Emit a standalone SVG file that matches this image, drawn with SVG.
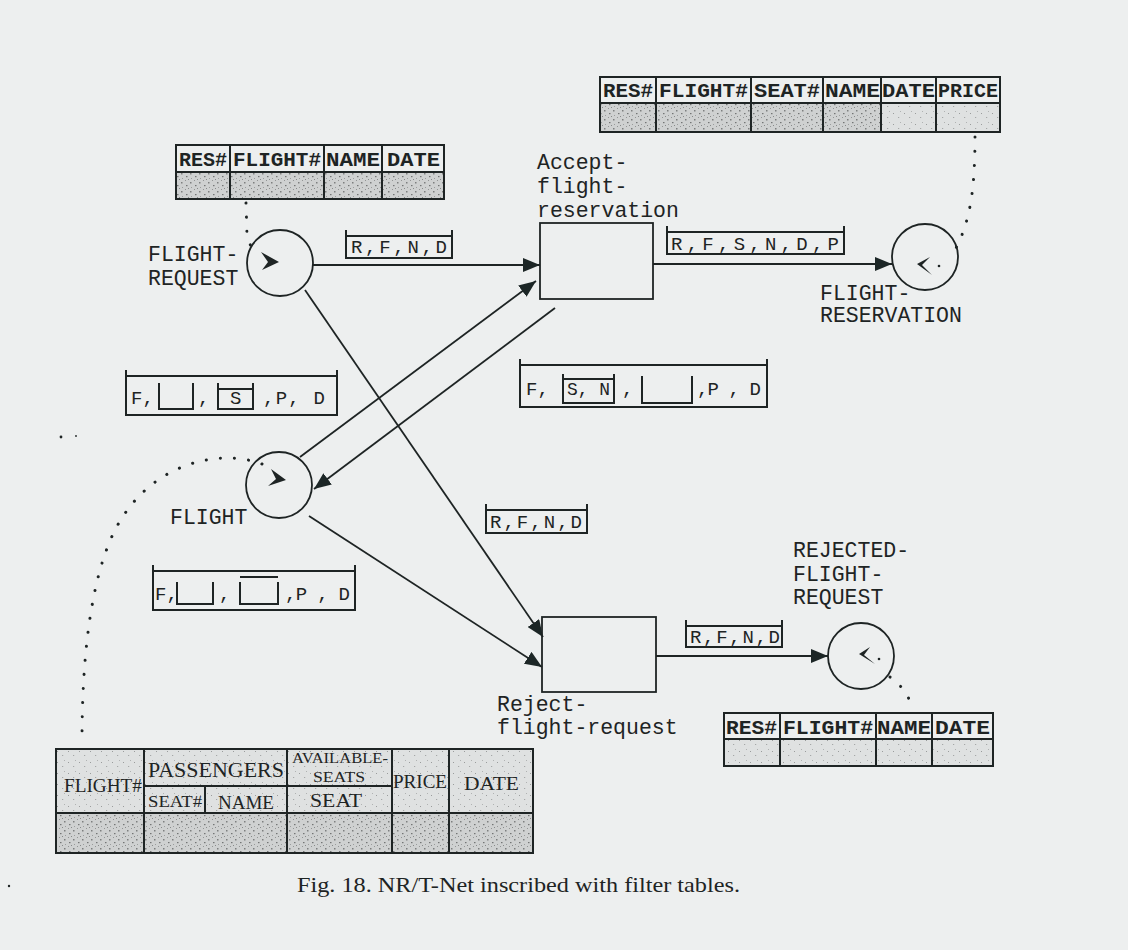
<svg xmlns="http://www.w3.org/2000/svg" width="1128" height="950" viewBox="0 0 1128 950">
<defs>
<pattern id="stip" width="9" height="9" patternUnits="userSpaceOnUse">
<rect width="9" height="9" fill="#cfd1d1"/>
<rect x="1" y="2" width="1.5" height="1.5" fill="#7d7f7f"/>
<rect x="5" y="0" width="1" height="1" fill="#939595"/>
<rect x="6" y="5" width="1.5" height="1.2" fill="#737575"/>
<rect x="2" y="7" width="1" height="1" fill="#9a9c9c"/>
<rect x="8" y="8" width="1" height="1" fill="#888a8a"/>
</pattern>
<pattern id="stipL" width="11" height="11" patternUnits="userSpaceOnUse">
<rect width="11" height="11" fill="#dfe1e1"/>
<rect x="2" y="3" width="1" height="1" fill="#9a9c9c"/>
<rect x="7" y="7" width="1.2" height="1" fill="#a5a7a7"/>
<rect x="9" y="1" width="1" height="1" fill="#b0b2b2"/>
</pattern>
<marker id="arr" markerUnits="userSpaceOnUse" markerWidth="18" markerHeight="14" refX="17" refY="7" orient="auto">
<path d="M0,0 L17,7 L0,14 z" fill="#1c2626"/>
</marker>
<style>
.ln{stroke:#1e2424;stroke-width:1.8;fill:none}
.tb{stroke:#1e2424;stroke-width:2;fill:none}
.dot{stroke:#1e2424;stroke-width:3;fill:none;stroke-dasharray:0.1 14;stroke-linecap:round}
.mono{font-family:"Liberation Mono","DejaVu Sans Mono",monospace;fill:#1e2424}
.lbl{font-size:21.5px}
.th{font-size:20px;font-weight:bold}
.fl{font-size:19px}
.ser{font-family:"Liberation Serif","DejaVu Serif",serif;fill:#1e2424}
</style>
</defs>
<rect width="1128" height="950" fill="#edefef"/>

<g id="connectors">
<line class="ln" x1="313" y1="265" x2="540" y2="265" marker-end="url(#arr)"/>
<line class="ln" x1="653" y1="264" x2="892" y2="264" marker-end="url(#arr)"/>
<line class="ln" x1="305" y1="290" x2="543" y2="637" marker-end="url(#arr)"/>
<line class="ln" x1="309" y1="516" x2="542" y2="667" marker-end="url(#arr)"/>
<line class="ln" x1="300" y1="457" x2="536" y2="281" marker-end="url(#arr)"/>
<line class="ln" x1="555" y1="308" x2="314" y2="489" marker-end="url(#arr)"/>
<line class="ln" x1="656" y1="656" x2="828" y2="656" marker-end="url(#arr)"/>
<path class="dot" d="M246,203 L247,236 Q250,248 258,254"/>
<path class="dot" d="M975,137 C975,190 970,222 955,250"/>
<path class="dot" d="M262,464 C220,448 150,462 115,530 C90,580 82,660 82,742"/>
<path class="dot" d="M890,677 Q908,690 912,708"/>
</g>

<g id="flight-request">
<circle class="ln" cx="280" cy="263" r="33"/>
<polygon points="261,252 279,262 262,270 268,262" fill="#1e2424"/>
<text class="mono lbl" x="148" y="261">FLIGHT-</text>
<text class="mono lbl" x="148" y="285">REQUEST</text>
</g>

<g id="flight-reservation">
<circle class="ln" cx="925" cy="257" r="33"/>
<polygon points="917,264 930,257 922,265 932,275" fill="#1e2424"/>
<circle cx="939" cy="266" r="1.3" fill="#1e2424"/>
<text class="mono lbl" x="820" y="300">FLIGHT-</text>
<text class="mono lbl" x="820" y="322">RESERVATION</text>
</g>

<g id="flight">
<circle class="ln" cx="279" cy="485" r="33"/>
<polygon points="271,469 286,480 268,486 276,479" fill="#1e2424"/>
<text class="mono lbl" x="170" y="524">FLIGHT</text>
</g>

<g id="rejected-flight-request">
<circle class="ln" cx="861" cy="656" r="33"/>
<polygon points="859,654 870,647 864,655 875,664" fill="#1e2424"/>
<circle cx="879" cy="659" r="1.3" fill="#1e2424"/>
<text class="mono lbl" x="793" y="557">REJECTED-</text>
<text class="mono lbl" x="793" y="581">FLIGHT-</text>
<text class="mono lbl" x="793" y="604">REQUEST</text>
</g>

<g id="accept-flight-reservation">
<rect class="ln" x="540" y="223" width="113" height="76"/>
<text class="mono lbl" x="537" y="169">Accept-</text>
<text class="mono lbl" x="537" y="193">flight-</text>
<text class="mono lbl" x="537" y="217">reservation</text>
</g>

<g id="reject-flight-request">
<rect class="ln" x="542" y="617" width="114" height="75"/>
<text class="mono lbl" x="497" y="711">Reject-</text>
<text class="mono lbl" x="497" y="734">flight-request</text>
</g>

<g id="arc-labels">
<path class="tb" d="M346,230 V258 H452 V230 M346,236 H452"/>
<text class="mono fl" x="351" y="253" textLength="96" lengthAdjust="spacing">R,F,N,D</text>
<path class="tb" d="M667,226 V254 H844 V226 M667,232 H844"/>
<text class="mono fl" x="671" y="250" textLength="168" lengthAdjust="spacing">R,F,S,N,D,P</text>
<path class="tb" d="M486,504 V533 H587 V504 M486,510 H587"/>
<text class="mono fl" x="490" y="528" textLength="92" lengthAdjust="spacing">R,F,N,D</text>
<path class="tb" d="M686,620 V647 H782 V620 M686,626 H782"/>
<text class="mono fl" x="690" y="643" textLength="90" lengthAdjust="spacing">R,F,N,D</text>
</g>

<g id="filter-flight-in">
<path class="tb" d="M126,370 V415 H337 V370 M126,376 H337"/>
<text class="mono fl" x="131" y="404">F,</text>
<path class="tb" d="M159,383 V409 H193 V383"/>
<text class="mono fl" x="198" y="404">,</text>
<path class="tb" d="M218,383 V409 H253 V383 M218,389 H253"/>
<text class="mono fl" x="230" y="404">S</text>
<text class="mono fl" x="263" y="404" textLength="62" lengthAdjust="spacing">,P, D</text>
</g>

<g id="filter-flight-out">
<path class="tb" d="M520,359 V407 H767 V359 M520,365 H767"/>
<text class="mono fl" x="526" y="395">F,</text>
<path class="tb" d="M563,374 V403 H614 V374 M563,379 H614"/>
<text class="mono fl" x="567" y="395" textLength="43" lengthAdjust="spacingAndGlyphs">S, N</text>
<text class="mono fl" x="622" y="395">,</text>
<path class="tb" d="M642,376 V403 H692 V376"/>
<text class="mono fl" x="697" y="395" textLength="64" lengthAdjust="spacing">,P , D</text>
</g>

<g id="filter-flight-reject">
<path class="tb" d="M153,565 V610 H355 V565 M153,571 H355"/>
<text class="mono fl" x="155" y="600">F,</text>
<path class="tb" d="M177,582 V604 H213 V582"/>
<text class="mono fl" x="219" y="600">,</text>
<path class="tb" d="M240,577 H278 M240,582 V604 H278 V582"/>
<text class="mono fl" x="285" y="600" textLength="65" lengthAdjust="spacing">,P , D</text>
</g>

<g id="table-flight-request">
<rect x="176" y="172" width="268" height="27" fill="url(#stip)"/>
<path class="tb" d="M176,145 H444 V199 H176 Z M176,172 H444 M230,145 V199 M324,145 V199 M382,145 V199"/>
<text class="mono th" x="179" y="166" textLength="48" lengthAdjust="spacingAndGlyphs">RES#</text>
<text class="mono th" x="233" y="166" textLength="88" lengthAdjust="spacingAndGlyphs">FLIGHT#</text>
<text class="mono th" x="326" y="166" textLength="54" lengthAdjust="spacingAndGlyphs">NAME</text>
<text class="mono th" x="387" y="166" textLength="53" lengthAdjust="spacingAndGlyphs">DATE</text>
</g>

<g id="table-flight-reservation">
<rect x="600" y="103" width="281" height="29" fill="url(#stip)"/>
<rect x="881" y="103" width="119" height="29" fill="url(#stipL)"/>
<path class="tb" d="M600,77 H1000 V132 H600 Z M600,103 H1000 M656,77 V132 M751,77 V132 M823,77 V132 M881,77 V132 M936,77 V132"/>
<text class="mono th" x="603" y="97" textLength="50" lengthAdjust="spacingAndGlyphs">RES#</text>
<text class="mono th" x="659" y="97" textLength="89" lengthAdjust="spacingAndGlyphs">FLIGHT#</text>
<text class="mono th" x="754" y="97" textLength="66" lengthAdjust="spacingAndGlyphs">SEAT#</text>
<text class="mono th" x="825" y="97" textLength="55" lengthAdjust="spacingAndGlyphs">NAME</text>
<text class="mono th" x="882" y="97" textLength="53" lengthAdjust="spacingAndGlyphs">DATE</text>
<text class="mono th" x="938" y="97" textLength="60" lengthAdjust="spacingAndGlyphs">PRICE</text>
</g>

<g id="table-rejected">
<rect x="724" y="739" width="269" height="27" fill="url(#stipL)"/>
<path class="tb" d="M724,713 H993 V766 H724 Z M724,739 H993 M780,713 V766 M876,713 V766 M932,713 V766"/>
<text class="mono th" x="726" y="734" textLength="51" lengthAdjust="spacingAndGlyphs">RES#</text>
<text class="mono th" x="783" y="734" textLength="90" lengthAdjust="spacingAndGlyphs">FLIGHT#</text>
<text class="mono th" x="877" y="734" textLength="54" lengthAdjust="spacingAndGlyphs">NAME</text>
<text class="mono th" x="935" y="734" textLength="55" lengthAdjust="spacingAndGlyphs">DATE</text>
</g>

<g id="table-flight">
<rect x="56" y="749" width="477" height="64" fill="url(#stipL)"/>
<rect x="56" y="813" width="477" height="40" fill="url(#stip)"/>
<path class="tb" d="M56,749 H533 V853 H56 Z M56,813 H533 M144,786 H392 M144,749 V853 M287,749 V853 M392,749 V853 M449,749 V853 M205,786 V813"/>
<text class="ser" x="64" y="792" font-size="19" textLength="78" lengthAdjust="spacingAndGlyphs">FLIGHT#</text>
<text class="ser" x="148" y="777" font-size="20" textLength="136" lengthAdjust="spacingAndGlyphs">PASSENGERS</text>
<text class="ser" x="292" y="763" font-size="14" textLength="96" lengthAdjust="spacingAndGlyphs">AVAILABLE-</text>
<text class="ser" x="313" y="782" font-size="14" textLength="52" lengthAdjust="spacingAndGlyphs">SEATS</text>
<text class="ser" x="148" y="807" font-size="16" textLength="54" lengthAdjust="spacingAndGlyphs">SEAT#</text>
<text class="ser" x="218" y="809" font-size="19" textLength="56" lengthAdjust="spacingAndGlyphs">NAME</text>
<text class="ser" x="310" y="807" font-size="18" textLength="52" lengthAdjust="spacingAndGlyphs">SEAT</text>
<text class="ser" x="393" y="788" font-size="18" textLength="54" lengthAdjust="spacingAndGlyphs">PRICE</text>
<text class="ser" x="464" y="790" font-size="19" textLength="55" lengthAdjust="spacingAndGlyphs">DATE</text>
</g>

<g id="specks" fill="#1e2424">
<circle cx="61" cy="437" r="1.4"/>
<circle cx="76" cy="436" r="0.9"/>
<circle cx="9" cy="886" r="1.2"/>
</g>

<text class="ser" x="297" y="892" font-size="21" textLength="443" lengthAdjust="spacingAndGlyphs">Fig. 18. NR/T-Net inscribed with filter tables.</text>
</svg>
